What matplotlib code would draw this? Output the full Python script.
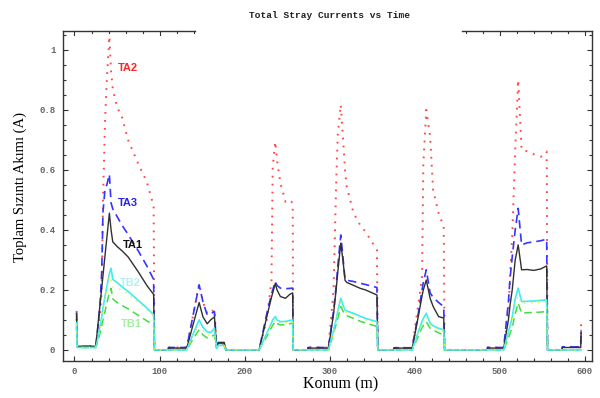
import numpy as np
import matplotlib
matplotlib.use("Agg")
import matplotlib.pyplot as plt
from matplotlib.ticker import MultipleLocator

# -------------------------------------------------------------------------
# Data (position in m, current in A)
# -------------------------------------------------------------------------
konum = [2.5, 3, 25,
         27, 30, 32, 33.5, 36, 38, 41, 43, 45, 50, 56, 63, 75, 85, 93, 94,
         110, 110.5, 132,
         139, 146.5, 151, 156, 160, 164.5, 167, 169, 176, 178, 217,
         226, 231.5, 233, 236, 238, 242, 248, 253, 256.5, 257,
         274, 274.5, 298.5,
         304.5, 307.5, 309.5, 313, 315.5, 318, 320, 328, 336, 342, 355.5, 356.5,
         375, 375.5, 397,
         404, 408.5, 410, 413.5, 418, 421.5, 428, 434, 435,
         485, 485.5, 504.5,
         510, 512, 514.5, 518, 521.5, 525.5, 532, 540, 548, 555, 556,
         573, 573.5, 595, 595.5]

ta2 = [.13, .012, .012,
       .05, .12, .2, .5, .77, .9, 1.045, .93, .87, .81, .775, .70, .62, .56, .48, 0,
       0, .008, .008,
       .11, .22, .16, .12, .125, .135, .01, .02, .02, 0, 0,
       .1, .23, .61, .694, .633, .556, .494, .5, .489, 0,
       0, .008, .008,
       .2, .55, .72, .817, .711, .6, .544, .456, .415, .394, .333, 0,
       0, .007, .007,
       .15, .244, .62, .8, .711, .533, .456, .41, 0,
       0, .008, .008,
       .12, .25, .38, .667, .9, .667, .662, .652, .644, .661, 0,
       0, .01, .01, .106]

ta3 = [.125, .012, .012,
       .06, .15, .26, .46, .54, .55, .585, .49, .47, .445, .415, .385, .33, .28, .235, 0,
       0, .008, .008,
       .11, .217, .16, .117, .12, .128, .01, .022, .022, 0, 0,
       .12, .185, .2, .228, .215, .206, .204, .205, .206, 0,
       0, .008, .008,
       .13, .21, .28, .383, .31, .235, .232, .228, .222, .218, .208, 0,
       0, .007, .007,
       .12, .2, .225, .267, .19, .175, .158, .144, 0,
       0, .008, .008,
       .16, .24, .31, .4, .472, .35, .357, .36, .364, .369, 0,
       0, .01, .01, .067]

ta1 = [.12, .012, .012,
       .068, .15, .206, .248, .318, .373, .456, .40, .36, .345, .33, .31, .26, .215, .185, 0,
       0, .006, .006,
       .08, .158, .11, .087, .1, .11, .01, .025, .025, 0, 0,
       .11, .175, .19, .222, .2, .178, .172, .185, .19, 0,
       0, .006, .006,
       .12, .2, .26, .356, .30, .232, .225, .215, .205, .2, .183, 0,
       0, .006, .006,
       .11, .18, .2, .233, .172, .145, .111, .106, 0,
       0, .006, .006,
       .1, .15, .2, .3, .35, .267, .268, .265, .27, .28, 0,
       0, .008, .008, .06]

tb2 = [.09, .008, .008,
       .03, .08, .11, .14, .18, .21, .255, .272, .235, .225, .21, .195, .165, .14, .117, 0,
       0, 0, 0,
       .05, .1, .075, .06, .058, .072, .005, .015, .015, 0, 0,
       .055, .09, .1, .111, .1, .094, .095, .098, .1, 0,
       0, 0, 0,
       .065, .1, .13, .172, .15, .133, .13, .122, .112, .105, .094, 0,
       0, 0, 0,
       .06, .095, .105, .122, .089, .08, .072, .067, 0,
       0, 0, 0,
       .06, .08, .11, .17, .206, .161, .162, .163, .165, .167, 0,
       0, 0, 0, 0]

tb3 = [.085, .008, .008,
       .03, .07, .1, .13, .17, .2, .245, .23, .21, .205, .2, .185, .158, .135, .112, 0,
       0, 0, 0,
       .045, .085, .065, .05, .05, .065, .005, .012, .012, 0, 0,
       .05, .085, .09, .1, .093, .09, .09, .092, .093, 0,
       0, 0, 0,
       .06, .095, .12, .16, .14, .125, .125, .117, .107, .1, .089, 0,
       0, 0, 0,
       .055, .085, .095, .11, .082, .075, .066, .06, 0,
       0, 0, 0,
       .05, .07, .095, .15, .18, .155, .156, .157, .158, .16, 0,
       0, 0, 0, 0]

tb1 = [.075, .008, .008,
       .025, .056, .08, .1, .13, .155, .19, .205, .17, .158, .148, .137, .115, .097, .083, 0,
       0, 0, 0,
       .035, .067, .05, .04, .043, .05, .005, .012, .012, 0, 0,
       .045, .075, .082, .095, .088, .083, .084, .087, .09, 0,
       0, 0, 0,
       .055, .085, .105, .144, .13, .117, .114, .105, .095, .09, .078, 0,
       0, 0, 0,
       .045, .075, .082, .094, .072, .066, .057, .05, 0,
       0, 0, 0,
       .04, .055, .075, .12, .156, .122, .124, .125, .126, .128, 0,
       0, 0, 0, 0]

# series label text and where it sits (m, A)
labels = ["TA2", "TA3", "TA1", "TB2", "TB1"]
label_x = [63, 63, 69, 65.5, 66.5]
label_y = [0.94, 0.49, 0.35, 0.223, 0.087]

# -------------------------------------------------------------------------
# Figure
# -------------------------------------------------------------------------
fig = plt.figure(figsize=(6.0, 3.98), dpi=100)
ax = fig.add_axes([0.105, 0.093, 0.882, 0.829])

mono = "Liberation Mono"
serif = "Liberation Serif"

ax.plot(konum, ta2, color="#ff4545", lw=1.4, ls=(0, (0.9, 3.2)))
ax.plot(konum, ta3, color="#3535ff", lw=1.2, ls=(0, (5, 3)))
ax.plot(konum, ta1, color="#303030", lw=1.0)
ax.plot(konum, tb1, color="#40dd40", lw=1.1, ls=(0, (5, 3)))
ax.plot(konum, tb2, color="#40ecec", lw=1.2)
ax.plot(konum, tb3, color="#eeee30", lw=1.0, ls=(0, (1, 4)))

label_colors = ["#ff2525", "#2525ee", "#111111", "#b0f2f2", "#a5eea5"]
for t, lx, ly, c in zip(labels, label_x, label_y, label_colors):
    ax.text(lx, ly, t, color=c, fontsize=8, fontweight="bold",
            family="Liberation Sans", ha="center", va="center")

ax.set_xlim(-13.5, 608.5)
ax.set_ylim(-0.037, 1.063)

ax.xaxis.set_major_locator(MultipleLocator(100))
ax.xaxis.set_minor_locator(MultipleLocator(20))
ax.yaxis.set_major_locator(MultipleLocator(0.2))
ax.yaxis.set_minor_locator(MultipleLocator(0.05))
ax.set_yticks([0, 0.2, 0.4, 0.6, 0.8, 1.0])
ax.set_yticklabels(["0", "0.2", "0.4", "0.6", "0.8", "1"])

ax.tick_params(which="both", direction="in", right=True, top=False,
               color="#333333", width=0.8)
ax.tick_params(which="major", length=3.5)
ax.tick_params(which="minor", length=2.2)
ax.tick_params(axis="y", pad=5.5)
ax.tick_params(axis="x", pad=4)
for lab in ax.get_xticklabels() + ax.get_yticklabels():
    lab.set_family(mono)
    lab.set_fontsize(6.5)
    lab.set_fontweight("bold")
    lab.set_color("#666666")

for s in ["left", "right", "bottom"]:
    ax.spines[s].set_color("#333333")
    ax.spines[s].set_linewidth(1.0)
ax.spines["top"].set_visible(False)

# top frame is broken where the title band cut it in the original
gaps = [(0.0, 0.25), (0.754, 1.0)]
for a, b in gaps:
    ax.plot([a, b], [1, 1], transform=ax.transAxes, color="#333333",
            lw=1.0, clip_on=False)
xt = ax.get_xaxis_transform()
xlo, xhi = ax.get_xlim()
for xv in np.arange(0, 601, 20):
    f = (xv - xlo) / (xhi - xlo)
    if any(a <= f <= b for a, b in gaps):
        ln = 0.0105 if xv % 100 == 0 else 0.0067
        ax.plot([xv, xv], [1, 1 - ln], transform=xt, color="#333333",
                lw=0.8, clip_on=False)

fig.text(0.549, 0.962, "Total Stray Currents vs Time", family=mono,
         fontsize=6.8, fontweight="bold", ha="center", va="center",
         color="#222222")
fig.text(0.568, 0.033, "Konum (m)", family=serif, fontsize=11.5,
         ha="center", va="center")
fig.text(0.034, 0.529, "Toplam Sızıntı Akımı (A)", family=serif,
         fontsize=10.5, rotation=90, ha="center", va="center")

fig.savefig("out.png", dpi=100)
